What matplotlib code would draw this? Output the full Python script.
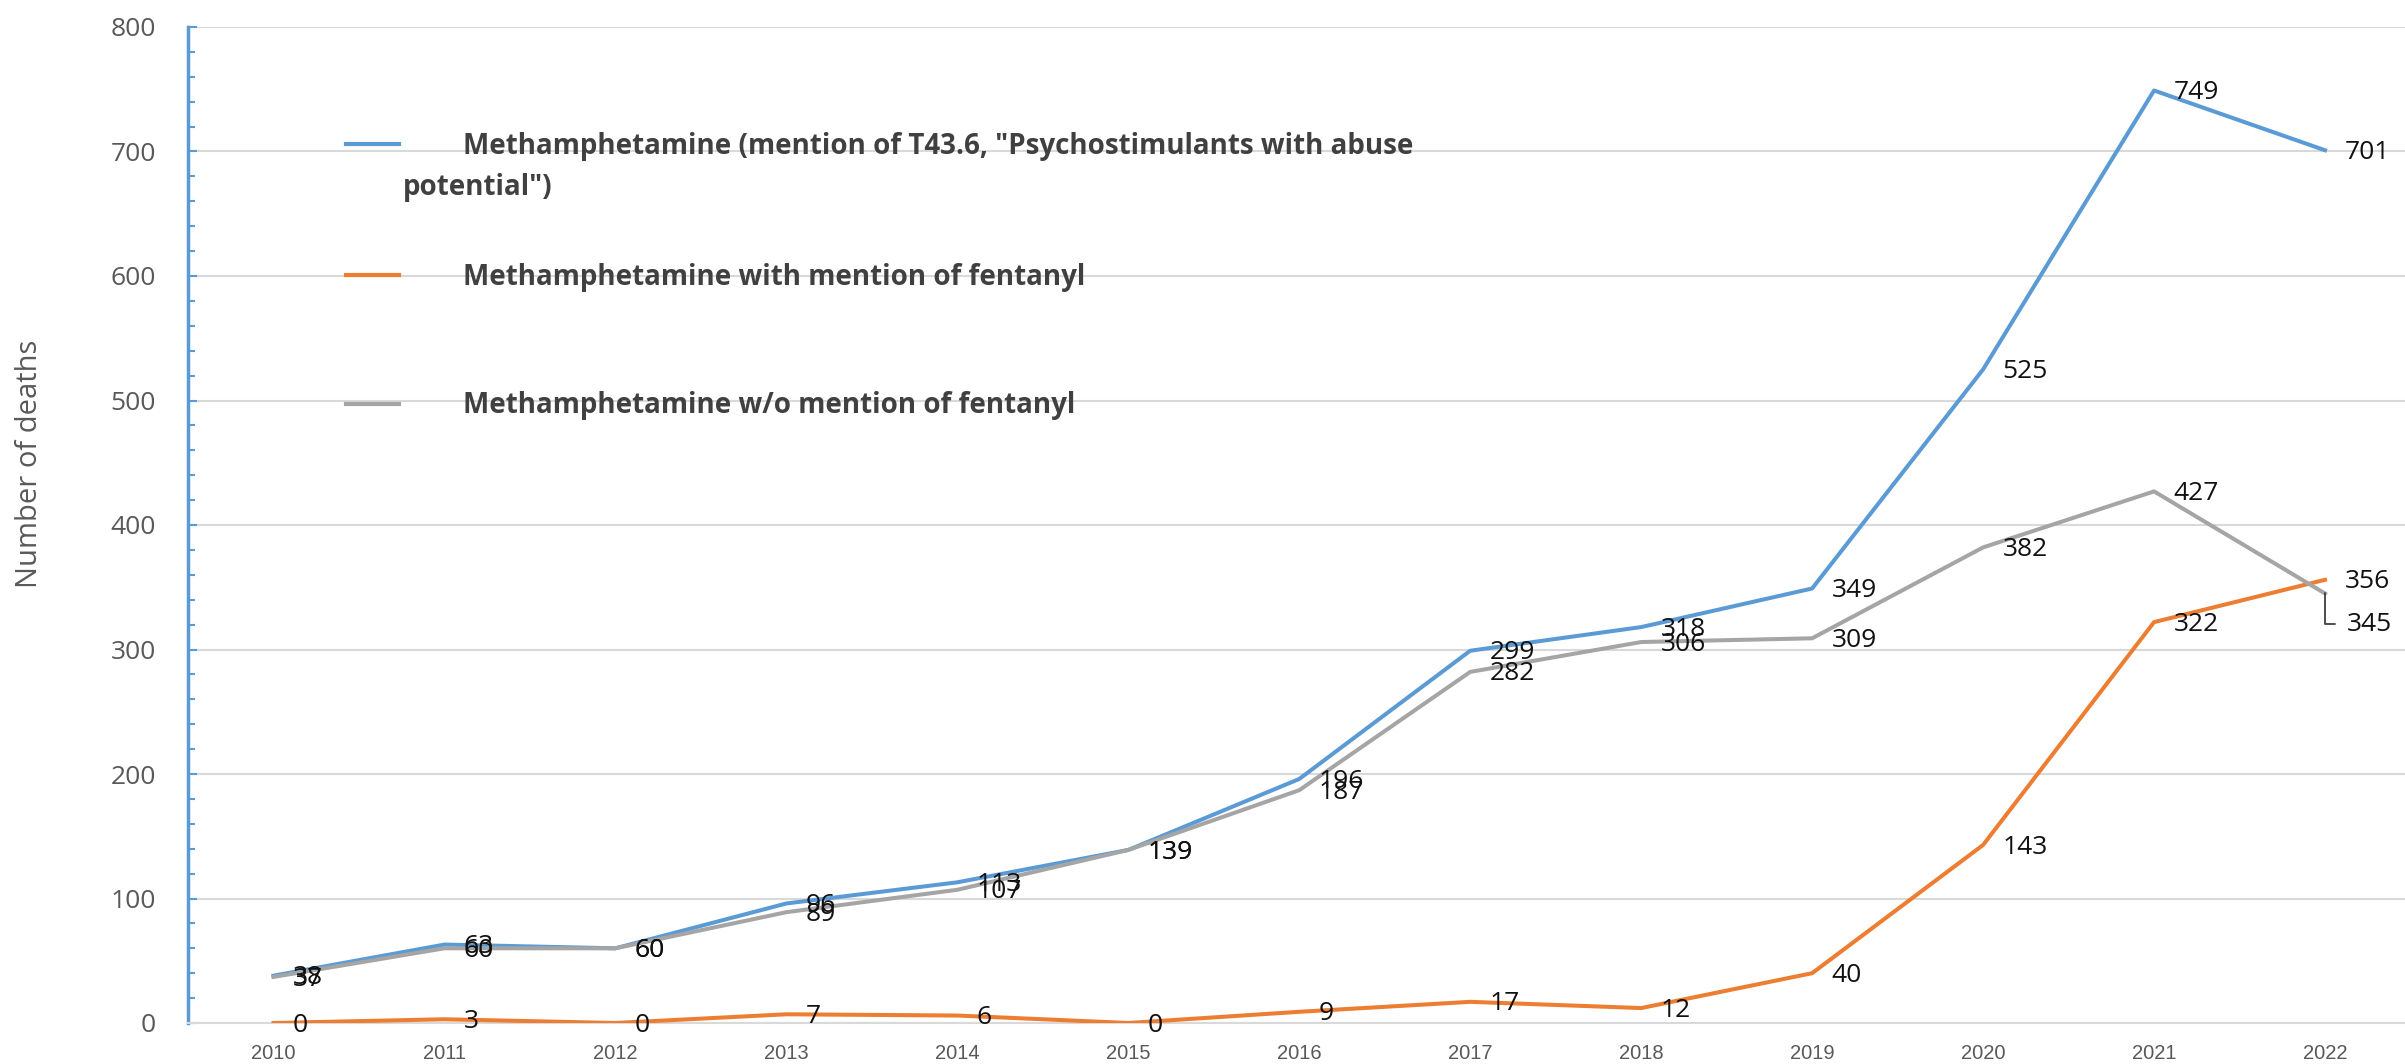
import matplotlib
matplotlib.use("Agg")
import matplotlib.pyplot as plt
from matplotlib.lines import Line2D

# Annual deaths involving methamphetamine
years = [2010, 2011, 2012, 2013, 2014, 2015, 2016, 2017, 2018, 2019, 2020, 2021, 2022]
meth_total = [38, 63, 60, 96, 113, 139, 196, 299, 318, 349, 525, 749, 701]
meth_with_fentanyl = [0, 3, 0, 7, 6, 0, 9, 17, 12, 40, 143, 322, 356]
meth_without_fentanyl = [37, 60, 60, 89, 107, 139, 187, 282, 306, 309, 382, 427, 345]

series_names = [
    'Methamphetamine (mention of T43.6, "Psychostimulants with abuse\npotential")',
    "Methamphetamine with mention of fentanyl",
    "Methamphetamine w/o mention of fentanyl",
]
series_values = [meth_total, meth_with_fentanyl, meth_without_fentanyl]
colors = ["#5B9BD5", "#ED7D31", "#A5A5A5"]

y_ticks = [0, 100, 200, 300, 400, 500, 600, 700, 800]
y_title = "Number of deaths"

W, H = 2405, 1064
fig = plt.figure(figsize=(W / 100, H / 100), dpi=100)
ax = fig.add_axes([188 / W, 1 - 1023 / H, (2410.5 - 188) / W, (1023 - 27) / H])

for vals, col in zip(series_values, colors):
    ax.plot(years, vals, color=col, lw=2.9, solid_joinstyle="round", zorder=3)

label_font = dict(family=["Open Sans", "DejaVu Sans"], size=19, color="#111111")
for s, vals in enumerate(series_values):
    for i, (x, v) in enumerate(zip(years, vals)):
        if s == 2 and i == len(years) - 1:
            # pushed down below the neighbouring label, with a leader line
            ax.annotate(str(v), xy=(x, v), xytext=(16, -22), textcoords="offset points",
                        ha="left", va="center", zorder=5,
                        arrowprops=dict(arrowstyle="-", color="#404040", lw=1.3,
                                        connectionstyle="angle,angleA=0,angleB=90,rad=0",
                                        relpos=(0, 0.5), shrinkA=7, shrinkB=0),
                        **label_font)
        else:
            ax.annotate(str(v), xy=(x, v), xytext=(14, -1.5), textcoords="offset points",
                        ha="left", va="center", zorder=5, **label_font)

ax.set_xlim(2009.5, 2022.5)
ax.set_ylim(0, 800)
ax.set_xticks(years)
ax.set_xticklabels([str(y) for y in years], family=["Liberation Sans", "DejaVu Sans"],
                   fontsize=14.5, color="#595959")
ax.set_yticks(y_ticks)
ax.set_yticklabels([str(t) for t in y_ticks], family=["Open Sans", "DejaVu Sans"],
                   fontsize=19, color="#595959")
ax.set_yticks(range(0, 801, 20), minor=True)
ax.tick_params(axis="x", length=0, pad=15)
ax.tick_params(axis="y", which="both", direction="in", color="#5B9BD5", width=1.5, pad=23)
ax.tick_params(axis="y", which="major", length=6.5)
ax.tick_params(axis="y", which="minor", length=5)

ax.yaxis.grid(True, color="#D9D9D9", lw=1.5)
ax.set_axisbelow(True)
for side in ("top", "right"):
    ax.spines[side].set_visible(False)
ax.spines["bottom"].set_color("#D9D9D9")
ax.spines["bottom"].set_linewidth(1.5)
ax.spines["left"].set_color("#5B9BD5")
ax.spines["left"].set_linewidth(2.5)

fig.text(30 / W, 1 - 464 / H, y_title, rotation=90, ha="center", va="center",
         family=["Open Sans", "DejaVu Sans"], fontsize=21, color="#595959")

# Legend entries laid out in figure pixels
legend_rows = [144, 275, 404]
legend_font = dict(family=["Open Sans", "DejaVu Sans"], fontsize=20, fontweight="bold",
                   color="#404040")
for name, col, yrow in zip(series_names, colors, legend_rows):
    fig.add_artist(Line2D([346 / W, 399 / W], [1 - yrow / H, 1 - yrow / H],
                          color=col, lw=3, transform=fig.transFigure))
    lines = name.split("\n")
    fig.text(463 / W, 1 - (yrow + 2) / H, lines[0], ha="left", va="center", **legend_font)
    if len(lines) > 1:
        fig.text(403 / W, 1 - (yrow + 44) / H, lines[1], ha="left", va="center", **legend_font)

fig.savefig("out.png", dpi=100, facecolor="white")
